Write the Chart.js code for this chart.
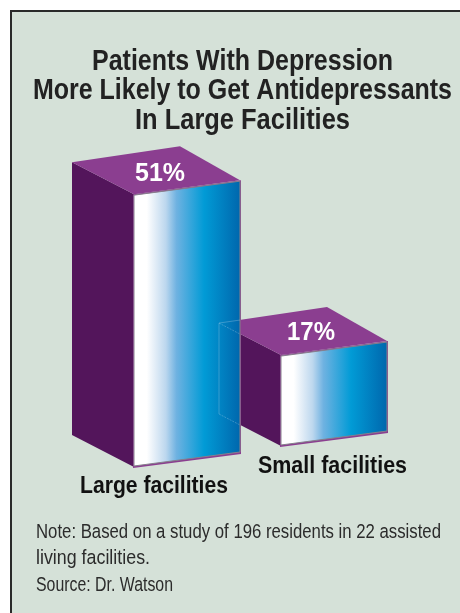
<!DOCTYPE html>
<html>
<head>
<meta charset="utf-8">
<style>
html, body { margin: 0; padding: 0; background: #fff; }
#wrap { position: relative; width: 460px; height: 613px; }
</style>
<script src="https://cdn.jsdelivr.net/npm/chart.js@4/dist/chart.umd.js"></script>
</head>
<body>
<div id="wrap"><canvas id="chart" width="460" height="613"></canvas></div>
<script>
const categories = ["Large facilities", "Small facilities"];
const percentValues = [51, 17];
const titleLines = ["Patients With Depression", "More Likely to Get Antidepressants", "In Large Facilities"];
const noteLines = ["Note: Based on a study of 196 residents in 22 assisted", "living facilities.", "Source: Dr. Watson"];

const sans = '"Liberation Sans", sans-serif';
const panelColor = "#d5e1d8";
const sideColor = "#53155b";
const topColor = "#8b3e90";

// depth of each bar in the fake 3d view, pixels
const baseLift = [0, 21];
const skew = 14;
const backX = 62, backY = 32;
const topBackX = 108, topBackY = 16;

function poly(ctx, pts, fill, stroke) {
    ctx.beginPath();
    pts.forEach((p, i) => i ? ctx.lineTo(p[0], p[1]) : ctx.moveTo(p[0], p[1]));
    ctx.closePath();
    if (fill) { ctx.fillStyle = fill; ctx.fill(); }
    if (stroke) { ctx.strokeStyle = stroke; ctx.lineWidth = 1; ctx.stroke(); }
}

// no condensed font is installed, so squeeze the text to the wanted width
function fitText(ctx, text, left, baseline, width) {
    const natural = ctx.measureText(text).width;
    ctx.save();
    ctx.translate(left, baseline);
    ctx.scale(width / natural, 1);
    ctx.textAlign = "left";
    ctx.textBaseline = "alphabetic";
    ctx.fillText(text, 0, 0);
    ctx.restore();
}

const bars3d = {
    id: "bars3d",
    beforeDraw(chart) {
        const ctx = chart.ctx;
        ctx.save();
        ctx.fillStyle = panelColor;
        ctx.fillRect(10, 10, 450, 603);
        ctx.fillStyle = "#2a2a2a";
        ctx.fillRect(10, 10, 450, 2);
        ctx.fillRect(10, 10, 2, 603);
        ctx.fillStyle = "#222222";
        ctx.font = "bold 29px " + sans;
        fitText(ctx, titleLines[0], 92, 70, 301);
        fitText(ctx, titleLines[1], 33, 99, 419);
        fitText(ctx, titleLines[2], 135, 128.5, 215);
        ctx.restore();
    },
    afterDatasetsDraw(chart) {
        const ctx = chart.ctx;
        const bars = chart.getDatasetMeta(0).data;
        ctx.save();
        // small bar first so the large one sits in front of it
        for (let i = bars.length - 1; i >= 0; i--) {
            const b = bars[i];
            const l = b.x - b.width / 2, r = b.x + b.width / 2;
            const lift = baseLift[i];
            const top = b.y - lift, bot = b.base - lift;
            poly(ctx, [[l - backX, top - backY], [l, top], [l, bot], [l - backX, bot - backY]], sideColor);
            poly(ctx, [[l - backX, top - backY], [l - backX + topBackX, top - backY - topBackY], [r, top - skew], [l, top]], topColor);
            poly(ctx, [[l - 1, top], [r + 1, top - skew], [r + 1, bot - skew + 1], [l - 1, bot + 1]], topColor);
            const g = ctx.createLinearGradient(l, 0, r, 0);
            g.addColorStop(0, "#ffffff");
            g.addColorStop(0.12, "#ffffff");
            g.addColorStop(0.2, "#e2edf7");
            g.addColorStop(0.3, "#bcd7ee");
            g.addColorStop(0.4, "#6fb2e1");
            g.addColorStop(0.66, "#019bd6");
            g.addColorStop(1, "#0067ad");
            poly(ctx, [[l, top + 1], [r, top - skew + 1], [r, bot - skew - 1], [l, bot - 1]], g, "#86808c");
        }
        // faint hidden edges of the small bar, seen through the large one
        const s = bars[1];
        const sl = s.x - s.width / 2;
        const st = s.y - baseLift[1], sb = s.base - baseLift[1];
        ctx.strokeStyle = "rgba(190,215,235,0.3)";
        ctx.lineWidth = 1;
        ctx.beginPath();
        ctx.moveTo(sl - backX, st - backY);
        ctx.lineTo(sl - backX, sb - backY);
        ctx.moveTo(sl - backX, st - backY);
        ctx.lineTo(sl - backX + 21, st - backY - 3);
        ctx.stroke();
        ctx.setLineDash([2, 1]);
        ctx.beginPath();
        ctx.moveTo(sl - backX, st - backY);
        ctx.lineTo(sl - backX + 21, st - backY + 11);
        ctx.moveTo(sl - backX, sb - backY);
        ctx.lineTo(sl - backX + 21, sb - backY + 11);
        ctx.stroke();
        ctx.setLineDash([]);
        // value labels on the top faces
        ctx.fillStyle = "#ffffff";
        ctx.font = "bold 25px " + sans;
        fitText(ctx, percentValues[0] + "%", 135, 181, 50);
        fitText(ctx, percentValues[1] + "%", 287, 340, 48);
        // category names
        ctx.fillStyle = "#111111";
        ctx.font = "bold 24px " + sans;
        fitText(ctx, categories[0], 80, 493, 148);
        fitText(ctx, categories[1], 258, 473, 149);
        // footnote
        ctx.fillStyle = "#2b2b2b";
        ctx.font = "20.5px " + sans;
        fitText(ctx, noteLines[0], 36, 538, 405);
        fitText(ctx, noteLines[1], 36, 564, 114);
        fitText(ctx, noteLines[2], 36, 590.5, 137);
        ctx.restore();
    }
};

new Chart(document.getElementById("chart"), {
    type: "bar",
    data: {
        labels: categories,
        datasets: [{ data: percentValues, backgroundColor: "transparent", barPercentage: 0.721, categoryPercentage: 1 }]
    },
    options: {
        responsive: false,
        animation: false,
        layout: { padding: { left: 113.5, right: 52.5, top: 146, bottom: 146 } },
        scales: {
            x: { display: false },
            y: { display: false, min: 0, max: 60 }
        },
        plugins: {
            legend: { display: false },
            tooltip: { enabled: false },
            title: { display: false }
        }
    },
    plugins: [bars3d]
});
</script>
</body>
</html>
